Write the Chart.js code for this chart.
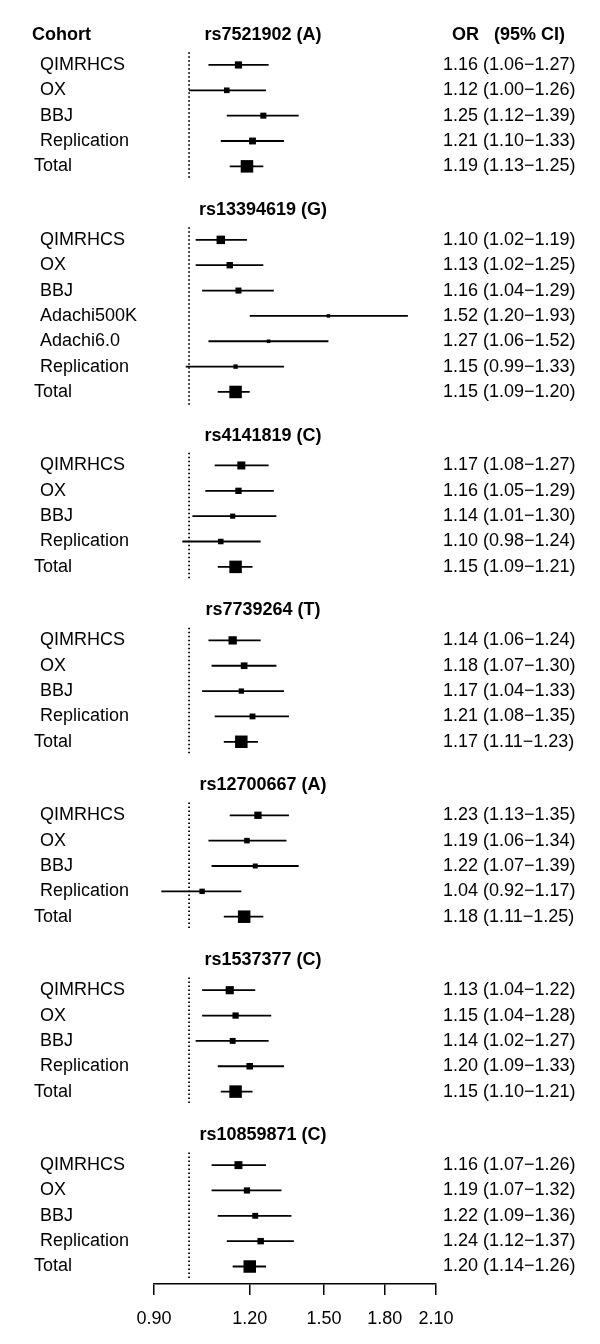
<!DOCTYPE html>
<html>
<head>
<meta charset="utf-8">
<title>Forest plot</title>
<script src="https://cdn.jsdelivr.net/npm/chart.js@4.4.0/dist/chart.umd.min.js"></script>
<style>
  html, body { margin: 0; padding: 0; background: #fff; }
  #wrap { width: 600px; height: 1344px; position: relative; }
</style>
</head>
<body>
<div id="wrap"><canvas id="forest"></canvas></div>
<script>
const snpLabels = ["rs7521902 (A)", "rs13394619 (G)", "rs4141819 (C)", "rs7739264 (T)",
                   "rs12700667 (A)", "rs1537377 (C)", "rs10859871 (C)"];

const cohortLabels = [
    ["QIMRHCS", "OX", "BBJ", "Replication", "Total"],
    ["QIMRHCS", "OX", "BBJ", "Adachi500K", "Adachi6.0", "Replication", "Total"],
    ["QIMRHCS", "OX", "BBJ", "Replication", "Total"],
    ["QIMRHCS", "OX", "BBJ", "Replication", "Total"],
    ["QIMRHCS", "OX", "BBJ", "Replication", "Total"],
    ["QIMRHCS", "OX", "BBJ", "Replication", "Total"],
    ["QIMRHCS", "OX", "BBJ", "Replication", "Total"]
];

const oddsRatios = [
    [1.16, 1.12, 1.25, 1.21, 1.19],
    [1.10, 1.13, 1.16, 1.52, 1.27, 1.15, 1.15],
    [1.17, 1.16, 1.14, 1.10, 1.15],
    [1.14, 1.18, 1.17, 1.21, 1.17],
    [1.23, 1.19, 1.22, 1.04, 1.18],
    [1.13, 1.15, 1.14, 1.20, 1.15],
    [1.16, 1.19, 1.22, 1.24, 1.20]
];

const lowerCI = [
    [1.06, 1.00, 1.12, 1.10, 1.13],
    [1.02, 1.02, 1.04, 1.20, 1.06, 0.99, 1.09],
    [1.08, 1.05, 1.01, 0.98, 1.09],
    [1.06, 1.07, 1.04, 1.08, 1.11],
    [1.13, 1.06, 1.07, 0.92, 1.11],
    [1.04, 1.04, 1.02, 1.09, 1.10],
    [1.07, 1.07, 1.09, 1.12, 1.14]
];

const upperCI = [
    [1.27, 1.26, 1.39, 1.33, 1.25],
    [1.19, 1.25, 1.29, 1.93, 1.52, 1.33, 1.20],
    [1.27, 1.29, 1.30, 1.24, 1.21],
    [1.24, 1.30, 1.33, 1.35, 1.23],
    [1.35, 1.34, 1.39, 1.17, 1.25],
    [1.22, 1.28, 1.27, 1.33, 1.21],
    [1.26, 1.32, 1.36, 1.37, 1.26]
];

const xTicks = [0.9, 1.2, 1.5, 1.8, 2.1];

// layout (row units on the y scale)
const sectionGap = 2.9;
const headerLift = 1.18;
const FONT = '"Liberation Sans", Arial, Helvetica, sans-serif';

let rows = [];
let headers = [];
let dotted = [];
let pos = 0;

snpLabels.forEach((snp, s) => {
    const start = pos;
    headers.push({ text: snp, y: pos - headerLift, first: s === 0 });
    cohortLabels[s].forEach((name, i) => {
        rows.push({
            name: name,
            or: oddsRatios[s][i],
            lo: lowerCI[s][i],
            hi: upperCI[s][i],
            y: pos,
            total: name === "Total"
        });
        pos += 1;
    });
    dotted.push({ x: 1, y: start - 0.5 }, { x: 1, y: pos - 0.5 }, { x: NaN, y: null });
    pos += sectionGap - 1;
});

const lastRow = rows[rows.length - 1].y;

// box side grows with precision (1 / CI width on log scale)
function boxSide(r) {
    if (r.total) return 12.5;
    return Math.max(3.5, 1.3 / Math.log(r.hi / r.lo));
}

const ciData = rows.flatMap(r => [{ x: r.lo, y: r.y }, { x: r.hi, y: r.y }, { x: NaN, y: null }]);
const boxData = rows.map(r => ({ x: r.or, y: r.y }));

const forestText = {
    id: "forestText",
    afterDraw(chart) {
        const ctx = chart.ctx;
        const yScale = chart.scales.y;
        ctx.save();
        ctx.fillStyle = "#000";
        ctx.textBaseline = "middle";

        ctx.font = "bold 18px " + FONT;
        headers.forEach(h => {
            const py = yScale.getPixelForValue(h.y);
            ctx.textAlign = "center";
            ctx.fillText(h.text, 263, py);
            if (h.first) {
                ctx.textAlign = "left";
                ctx.fillText("Cohort", 32, py);
                ctx.fillText("OR   (95% CI)", 452, py);
            }
        });

        ctx.font = "18px " + FONT;
        ctx.textAlign = "left";
        rows.forEach(r => {
            const py = yScale.getPixelForValue(r.y);
            ctx.fillText(r.name, r.total ? 34 : 40, py);
            const txt = `${r.or.toFixed(2)} (${r.lo.toFixed(2)}\u2212${r.hi.toFixed(2)})`;
            ctx.fillText(txt, 443, py);
        });
        ctx.restore();
    }
};

new Chart(document.getElementById("forest"), {
    type: "scatter",
    data: {
        datasets: [
            {
                data: dotted,
                showLine: true,
                borderColor: "#000",
                borderWidth: 1.8,
                borderDash: [1.5, 2.5],
                pointRadius: 0
            },
            {
                data: ciData,
                showLine: true,
                borderColor: "#000",
                borderWidth: 1.8,
                pointRadius: 0
            },
            {
                data: boxData,
                showLine: false,
                pointStyle: "rect",
                pointRadius: ctx => boxSide(rows[ctx.dataIndex]) / Math.SQRT2,
                pointBackgroundColor: "#000",
                pointBorderWidth: 0
            }
        ]
    },
    options: {
        responsive: true,
        maintainAspectRatio: false,
        animation: false,
        events: [],
        layout: { padding: { left: 154, right: 164, top: 14, bottom: 0 } },
        plugins: {
            legend: { display: false },
            tooltip: { enabled: false }
        },
        scales: {
            x: {
                type: "logarithmic",
                position: "bottom",
                min: 0.9,
                max: 2.1,
                bounds: "data",
                afterBuildTicks: scale => {
                    scale.ticks = xTicks.map(v => ({ value: v }));
                },
                afterFit: scale => {
                    scale.height = 60;
                },
                grid: {
                    drawOnChartArea: false,
                    drawTicks: true,
                    tickLength: 11,
                    color: "#000",
                    lineWidth: 1.5
                },
                border: { display: true, color: "#000", width: 1.5 },
                ticks: {
                    autoSkip: false,
                    maxRotation: 0,
                    padding: 13,
                    color: "#000",
                    font: { family: FONT, size: 18 },
                    callback: value => Number(value).toFixed(2)
                }
            },
            y: {
                type: "linear",
                reverse: true,
                display: false,
                bounds: "data",
                min: -2.01,
                max: lastRow + 0.69
            }
        }
    },
    plugins: [forestText]
});
</script>
</body>
</html>
